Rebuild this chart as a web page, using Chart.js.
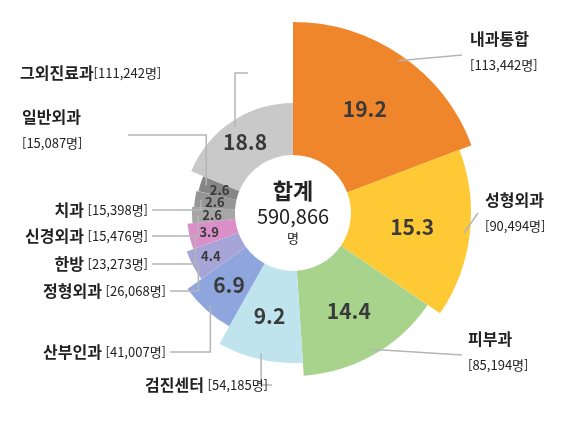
<!DOCTYPE html>
<html lang="ko">
<head>
<meta charset="UTF-8">
<title>진료과별 환자</title>
<script src="https://cdn.jsdelivr.net/npm/chart.js"></script>
<style>
  body { margin: 0; background: #fff; }
  #wrap { width: 572px; height: 434px; }
</style>
</head>
<body>
<div id="wrap"><canvas id="c" width="572" height="434"></canvas></div>
<script>
// 데이터
const depts = ['내과통합', '성형외과', '피부과', '검진센터', '산부인과', '정형외과', '한방', '신경외과', '치과', '일반외과', '그외진료과'];
const patients = ['113,442명', '90,494명', '85,194명', '54,185명', '41,007명', '26,068명', '23,273명', '15,476명', '15,398명', '15,087명', '111,242명'];
const shares = [19.2, 15.3, 14.4, 9.2, 6.9, 4.4, 3.9, 2.6, 2.6, 2.6, 18.8];
const colors = ['#F0862B', '#FDC934', '#A8D38C', '#BFE4EE', '#8EA6DD', '#A7A4D8', '#DB8FC9', '#A6A6A6', '#959595', '#868686', '#C9C9C9'];
const totalText = '590,866';

// 모양 (조각별 바깥 반지름, 라벨 위치)
const CX = 293, CY = 213, R_IN = 58;
const outerR = [191, 178, 163, 150, 130, 113, 106, 101, 99, 97, 110];
// [x, y, align, 줄바꿈 여부, 지시선 끝 x, y]
const labelPos = [
  [470, 52, 'left', true, 462, 55],
  [485, 213, 'left', true, 478, 213],
  [468, 352, 'left', true, 462, 355],
  [268, 385, 'right', false, 268, 385],
  [166, 352, 'right', false, 166, 352],
  [166, 291, 'right', false, 166, 291],
  [148, 264, 'right', false, 148, 264],
  [148, 236, 'right', false, 148, 236],
  [148, 210, 'right', false, 148, 210],
  [22, 130, 'left', true, 128, 135],
  [20, 73, 'left', false, 180, 73]
];

const FONT = '"Noto Sans CJK KR", "Noto Sans", sans-serif';

const shapePlugin = {
  id: 'shape',
  beforeDatasetsDraw(chart) {
    chart.getDatasetMeta(0).data.forEach((arc, i) => {
      arc.x = CX; arc.y = CY;
      arc.innerRadius = R_IN;
      arc.outerRadius = outerR[i];
    });
  },
  afterDatasetsDraw(chart) {
    const ctx = chart.ctx;
    const arcs = chart.getDatasetMeta(0).data;
    ctx.save();
    // 조각 안 숫자
    arcs.forEach((arc, i) => {
      const mid = (arc.startAngle + arc.endAngle) / 2;
      const small = shares[i] < 5;
      const r = small ? outerR[i] - 20 : (R_IN + outerR[i]) / 2 + 2;
      ctx.font = (small ? 'bold 13px ' : 'bold 21px ') + FONT;
      ctx.fillStyle = '#3a3a3a';
      ctx.textAlign = 'center'; ctx.textBaseline = 'middle';
      ctx.fillText(String(shares[i]), CX + Math.cos(mid) * r, CY + Math.sin(mid) * r);
    });
    // 지시선 + 라벨
    arcs.forEach((arc, i) => {
      const mid = (arc.startAngle + arc.endAngle) / 2;
      const [lx, ly, align, wrap, ex, ey] = labelPos[i];
      const sx = CX + Math.cos(mid) * (outerR[i] - 6);
      const sy = CY + Math.sin(mid) * (outerR[i] - 6);
      ctx.strokeStyle = '#b5b5b5'; ctx.lineWidth = 1.5;
      ctx.beginPath();
      if (align === 'left' && !wrap) { // 그외진료과
        ctx.moveTo(sx, sy); ctx.lineTo(sx, ey); ctx.lineTo(ex + 68, ey);
      } else if (align === 'right') {
        ctx.moveTo(sx, sy); ctx.lineTo(sx, ey); ctx.lineTo(ex + 4, ey);
      } else if (i === 9) {
        ctx.moveTo(sx, sy); ctx.lineTo(sx, ey); ctx.lineTo(ex, ey);
      } else {
        ctx.moveTo(sx, sy); ctx.lineTo(ex, ey);
      }
      ctx.stroke();

      ctx.fillStyle = '#222';
      ctx.textBaseline = 'middle';
      ctx.textAlign = align === 'right' ? 'right' : 'left';
      if (wrap) {
        ctx.font = 'bold 16px ' + FONT;
        ctx.fillText(depts[i], lx, ly - 13);
        ctx.font = '13px ' + FONT;
        ctx.fillText('[' + patients[i] + ']', lx, ly + 13);
      } else if (align === 'right') {
        ctx.font = '13px ' + FONT;
        const p = '[' + patients[i] + ']';
        ctx.fillText(p, lx, ly);
        const w = ctx.measureText(p).width;
        ctx.font = 'bold 16px ' + FONT;
        ctx.fillText(depts[i] + ' ', lx - w, ly);
      } else {
        ctx.font = 'bold 16px ' + FONT;
        ctx.fillText(depts[i], lx, ly);
        const w = ctx.measureText(depts[i]).width;
        ctx.font = '13px ' + FONT;
        ctx.fillText('[' + patients[i] + ']', lx + w, ly);
      }
    });
    // 가운데 합계
    ctx.textAlign = 'center'; ctx.textBaseline = 'middle'; ctx.fillStyle = '#222';
    ctx.font = 'bold 22px ' + FONT; ctx.fillText('합계', CX, CY - 22);
    ctx.font = '20px ' + FONT; ctx.fillText(totalText, CX, CY + 3);
    ctx.font = '13px ' + FONT; ctx.fillText('명', CX, CY + 25);
    ctx.restore();
  }
};

new Chart(document.getElementById('c'), {
  type: 'doughnut',
  data: {
    labels: depts,
    datasets: [{ data: shares, backgroundColor: colors, borderWidth: 0 }]
  },
  options: {
    responsive: false,
    animation: false,
    events: [],
    plugins: { legend: { display: false }, tooltip: { enabled: false } }
  },
  plugins: [shapePlugin]
});
</script>
</body>
</html>
